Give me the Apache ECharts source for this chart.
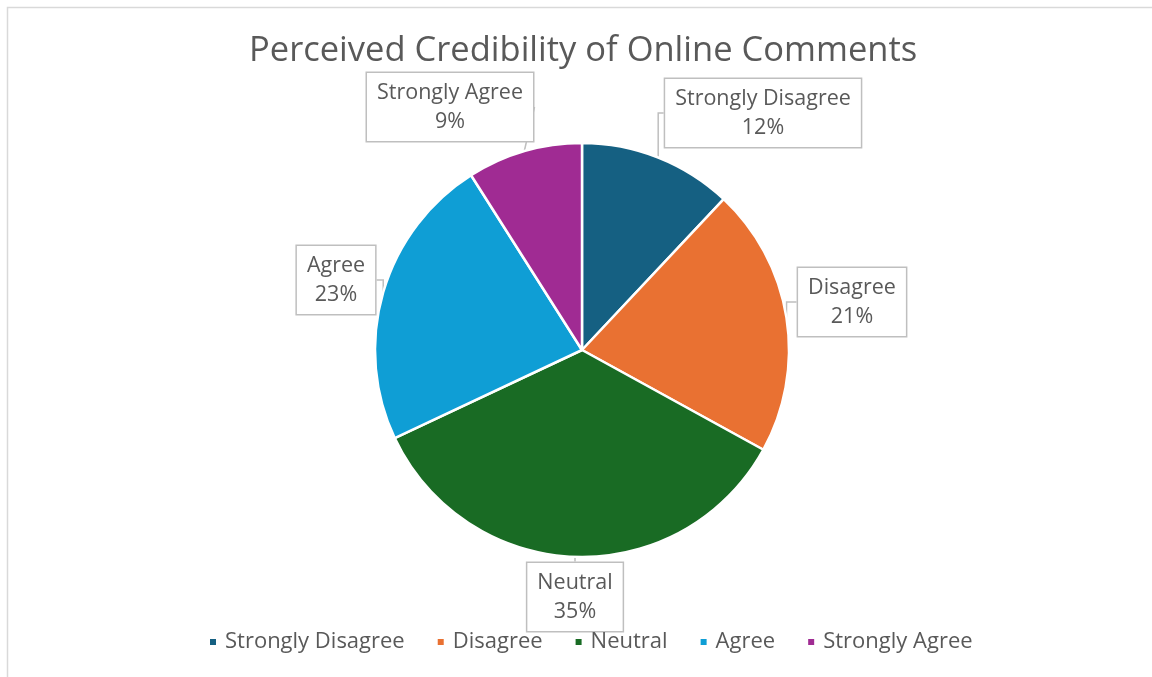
<!DOCTYPE html>
<html>
<head>
<meta charset="utf-8">
<script src="https://cdn.jsdelivr.net/npm/echarts@6/dist/echarts.min.js"></script>
<style>
  html, body { margin: 0; padding: 0; background: #ffffff; }
  #chart { width: 1152px; height: 677px; }
</style>
</head>
<body>
<div id="chart"></div>
<script>
// Survey responses on how credible people find online comments
const categories = ['Strongly Disagree', 'Disagree', 'Neutral', 'Agree', 'Strongly Agree'];
const shares = [12, 21, 35, 23, 9];
const sliceColors = ['#156082', '#E97132', '#196B24', '#0F9ED5', '#A02B93'];
const chartTitle = 'Perceived Credibility of Online Comments';

const FONT = 'Open Sans';
const TEXT = '#595959';

// where each callout box sits (box centre, in pixels)
const calloutCentres = [[763, 113], [852, 302], [575, 597], [336, 280], [450, 107]];

const chart = echarts.init(document.getElementById('chart'), null, { renderer: 'canvas' });

chart.setOption({
  backgroundColor: '#ffffff',
  animation: false,
  color: sliceColors,
  title: {
    text: chartTitle,
    left: 244,
    top: 29,
    textStyle: { fontFamily: FONT, fontSize: 34.5, fontWeight: 'normal', color: TEXT }
  },
  legend: {
    bottom: 19,
    left: 203,
    icon: 'rect',
    itemWidth: 8,
    itemHeight: 8,
    itemGap: 31,
    data: categories,
    textStyle: { fontFamily: FONT, fontSize: 22, color: TEXT, padding: [0, 0, 0, 3] }
  },
  graphic: [{
    type: 'rect',
    shape: { x: 7.5, y: 7.5, width: 1200, height: 700 },
    style: { fill: 'none', stroke: '#d9d9d9', lineWidth: 1.5 },
    silent: true
  }],
  series: [{
    type: 'pie',
    center: [582, 350],
    radius: 207,
    startAngle: 90,
    clockwise: true,
    data: categories.map((name, i) => ({ name, value: shares[i] })),
    itemStyle: { borderColor: '#ffffff', borderWidth: 2.5 },
    label: {
      show: true,
      position: 'outside',
      formatter: p => p.name + '\n' + p.value + '%',
      fontFamily: FONT,
      fontSize: 21.5,
      lineHeight: 29,
      color: TEXT,
      align: 'center',
      backgroundColor: '#ffffff',
      borderColor: '#bfbfbf',
      borderWidth: 1.5,
      padding: [5, 10, 5, 10]
    },
    labelLine: {
      show: true,
      length: 10,
      length2: 10,
      lineStyle: { color: '#bfbfbf', width: 1.5 }
    },
    labelLayout: params => {
      const c = calloutCentres[params.dataIndex];
      return { x: c[0], y: c[1], align: 'center', verticalAlign: 'middle' };
    },
    emphasis: { disabled: true }
  }]
});
</script>
</body>
</html>
